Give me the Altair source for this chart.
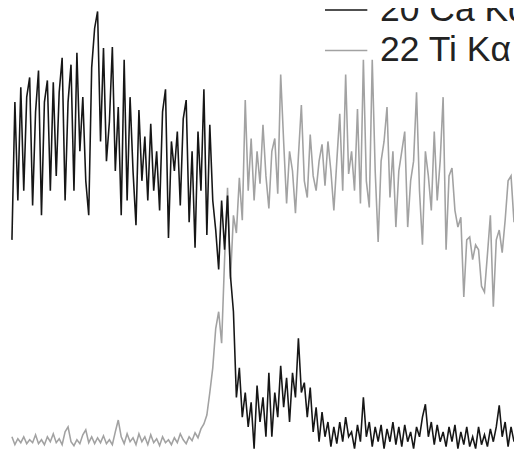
import altair as alt
import pandas as pd

# Line-scan intensities (counts), one sample per scan step
ca_counts = [
    218, 358, 258, 373, 268, 363, 383, 253, 348, 390,
    243, 358, 380, 268, 378, 283, 368, 403, 258, 358,
    396, 268, 408, 308, 363, 278, 243, 393, 433, 450,
    318, 413, 298, 338, 414, 288, 353, 243, 401, 258,
    363, 288, 233, 350, 278, 323, 258, 336, 268, 308,
    248, 348, 371, 220, 318, 288, 328, 253, 341, 360,
    236, 308, 210, 328, 268, 371, 223, 335, 258, 228,
    188, 258, 208, 263, 181, 145, 58, 88, 38, 63,
    28, 53, 6, 70, 33, 58, 18, 83, 18, 63,
    38, 90, 48, 78, 33, 83, 58, 118, 63, 73,
    38, 68, 23, 48, 13, 43, 18, 33, 8, 28,
    11, 33, 13, 38, 18, 23, 6, 30, 13, 58,
    18, 33, 8, 28, 13, 30, 6, 26, 13, 33,
    10, 28, 8, 30, 13, 23, 6, 28, 18, 38,
    51, 18, 33, 10, 30, 13, 23, 8, 28, 13,
    30, 6, 23, 10, 28, 8, 18, 6, 28, 10,
    20, 8, 26, 13, 28, 50, 18, 33, 8, 28,
    13,
]

ti_counts = [
    18, 10, 16, 12, 18, 11, 15, 12, 20, 11,
    15, 10, 18, 13, 21, 12, 16, 10, 23, 28,
    13, 9, 15, 11, 20, 25, 12, 18, 11, 17,
    12, 19, 11, 15, 10, 23, 35, 18, 11, 21,
    13, 17, 10, 21, 13, 18, 10, 20, 12, 16,
    9, 18, 12, 15, 10, 17, 12, 21, 15, 11,
    18, 14, 22, 17, 26, 31, 40, 63, 88, 128,
    145, 113, 198, 271, 178, 243, 225, 281, 238, 360,
    268, 321, 258, 308, 275, 335, 283, 250, 308, 321,
    265, 386, 318, 255, 308, 288, 245, 303, 355, 278,
    261, 325, 283, 268, 298, 315, 273, 318, 288, 248,
    298, 346, 268, 386, 285, 308, 268, 351, 255, 401,
    278, 251, 401, 288, 216, 298, 318, 353, 261, 308,
    231, 288, 308, 328, 231, 278, 298, 368, 268, 213,
    308, 283, 248, 328, 258, 298, 363, 208, 283, 291,
    248, 231, 241, 160, 218, 221, 198, 213, 208, 171,
    165, 203, 243, 150, 218, 228, 205, 238, 278, 283,
    236,
]

series_names = ["20 Ca Kα", "22 Ti Kα"]
series_colors = ["#161616", "#a2a2a2"]

rows = []
for name, vals in zip(series_names, [ca_counts, ti_counts]):
    for i, v in enumerate(vals):
        rows.append({"pos": i, "counts": v, "series": name})
df = pd.DataFrame(rows)

color = alt.Color(
    "series:N",
    scale=alt.Scale(domain=series_names, range=series_colors),
    legend=alt.Legend(
        orient="none",
        legendX=321,
        legendY=-24,
        title=None,
        symbolType="stroke",
        symbolSize=1849,
        symbolStrokeWidth=1.5,
        labelFontSize=36,
        labelFont="Liberation Sans",
        labelColor="#222222",
        labelOffset=12,
        labelLimit=400,
        rowPadding=-5,
        padding=0,
    ),
)

base = alt.Chart(df).mark_line(strokeWidth=1.6).encode(
    x=alt.X("pos:Q", axis=None,
            scale=alt.Scale(domain=[-4 / 3, 170], nice=False, zero=False)),
    y=alt.Y("counts:Q", axis=None,
            scale=alt.Scale(domain=[0, 450], nice=False, zero=False)),
    color=color,
)

ti_layer = base.transform_filter(alt.datum.series == series_names[1])
ca_layer = base.transform_filter(alt.datum.series == series_names[0])

chart = alt.layer(ti_layer, ca_layer).properties(
    width=514,
    height=450,
    padding=0,
    autosize=alt.AutoSizeParams(type="none"),
    background="white",
).configure_view(stroke=None)

chart.save("out.html", embed_options={"renderer": "svg", "actions": False})
